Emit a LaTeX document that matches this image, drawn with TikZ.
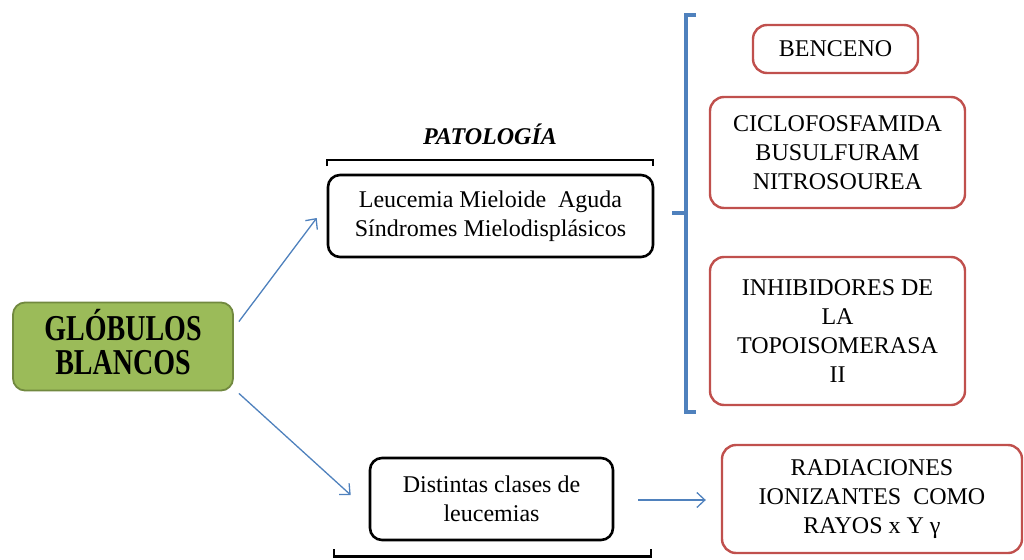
\documentclass[tikz,border=0pt]{standalone}
\usepackage{fontspec}
\setmainfont{Liberation Serif}
\usetikzlibrary{arrows.meta}
\definecolor{boxgreen}{HTML}{9BBB59}
\definecolor{boxgreenline}{HTML}{71893F}
\definecolor{boxred}{HTML}{C0504D}
\definecolor{lineblue}{HTML}{4F81BD}
\tikzset{
  txt/.style={font=\fontsize{24}{29}\selectfont, align=center, inner sep=0pt},
  blackbox/.style={txt, draw=black, line width=2.6pt, rounded corners=12pt, fill=white},
  redbox/.style={txt, draw=boxred, line width=2.4pt, rounded corners=14pt, fill=white},
  greenbox/.style={draw=boxgreenline, line width=1.8pt, fill=boxgreen, rounded corners=12pt, inner sep=0pt},
  arr/.style={draw=lineblue, line width=1.3pt, -{Straight Barb[length=8pt,width=15pt,line width=1.3pt]}},
  brk/.style={draw=black, line width=2.8pt},
  bluebrk/.style={draw=lineblue, line width=3.6pt},
}
\begin{document}
\begin{tikzpicture}[x=1pt,y=1pt]
\useasboundingbox (0,0) rectangle (1024,-559);
% main nodes
\node[greenbox, minimum width=220pt, minimum height=88pt] (g) at (123,-346.5)
  {\scalebox{1}[1.3]{\fontsize{28}{24.6}\selectfont\bfseries\begin{tabular}{@{}c@{}}GLÓBULOS\\BLANCOS\end{tabular}}};
\node[blackbox, minimum width=325pt, minimum height=82pt] (b1) at (490.5,-216)
  {Leucemia Mieloide\ \ Aguda\\Síndromes Mielodisplásicos};
\node[blackbox, minimum width=243pt, minimum height=82pt] (b2) at (491.5,-499)
  {Distintas clases de\\leucemias};
\node[txt, font=\fontsize{24}{29}\selectfont\bfseries\itshape] (pat) at (490,-134) {PATOLOGÍA};
\node[redbox, minimum width=165pt, minimum height=48pt] (r1) at (835.5,-49) {BENCENO};
\node[redbox, minimum width=255pt, minimum height=111pt] (r2) at (837.5,-152.5)
  {CICLOFOSFAMIDA\\BUSULFURAM\\NITROSOUREA};
\node[redbox, minimum width=255pt, minimum height=148pt] (r3) at (837.5,-331)
  {INHIBIDORES DE\\LA\\TOPOISOMERASA\\II};
\node[redbox, minimum width=300pt, minimum height=108pt] (r4) at (872,-499)
  {RADIACIONES\\IONIZANTES\ \ COMO\\RAYOS x Y γ};
% brackets
\coordinate (t1) at (327,-166);
\coordinate (t2) at (653,-166);
\draw[brk] (t1) -- ++(0,6) -- ++(326,0) -- (t2);
\coordinate (u1) at (334,-549);
\coordinate (u2) at (651,-549);
\draw[brk] (u1) -- ++(0,-7.5) -- ++(317,0) -- (u2);
\coordinate (bt) at (696,-15);
\coordinate (bb) at (696,-412);
\coordinate (bm) at (672,-213);
\draw[bluebrk] (bt) -- ++(-10,0) -- ++(0,-397) -- (bb);
\draw[bluebrk] (bm) -- (686,-213);
% arrows
\draw[arr] ([shift={(5pt,-20pt)}]g.north east) -- ([shift={(-10pt,-2pt)}]b1.west);
\draw[arr] ([shift={(5pt,-2pt)}]g.south east) -- ([shift={(-18pt,4pt)}]b2.west);
\draw[arr] ([shift={(24pt,-1pt)}]b2.east) -- ([shift={(-15pt,-1pt)}]r4.west);
\end{tikzpicture}
\end{document}
